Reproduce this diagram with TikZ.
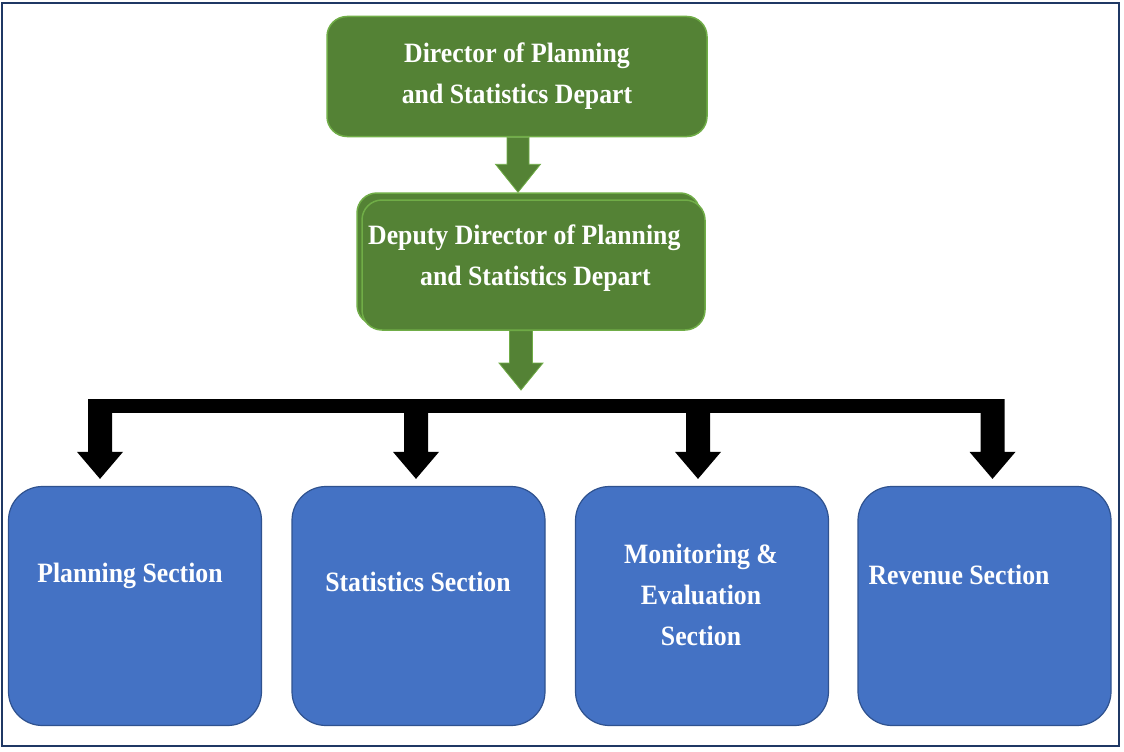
\documentclass[tikz,border=0pt]{standalone}
\usepackage{fontspec}
\setmainfont{Liberation Serif}[FakeStretch=0.92]
\usetikzlibrary{calc}
\definecolor{dirgreen}{HTML}{548235}
\definecolor{edgegreen}{HTML}{70AD47}
\definecolor{secblue}{HTML}{4472C4}
\definecolor{edgeblue}{HTML}{2F528F}
\definecolor{framenavy}{HTML}{1F3864}
\tikzset{
  greenbox/.style={draw=edgegreen, line width=1.5pt, fill=dirgreen, rounded corners=20pt, inner sep=0pt},
  bluebox/.style={draw=edgeblue, line width=1.2pt, fill=secblue, rounded corners=34pt,
    minimum width=253pt, minimum height=239pt, inner sep=0pt},
  boxtext/.style={text=white, font=\fontsize{28}{41}\selectfont\bfseries, align=center, inner sep=0pt},
  blockarrow/.style n args={3}{to path={let \p1=(\tikztostart), \p2=(\tikztotarget) in
    -- (\x2-#1,\y1) -- (\x2+#1,\y1) -- (\x2+#1,\y2+#3) -- (\x2+#2,\y2+#3)
    -- (\x2,\y2) -- (\x2-#2,\y2+#3) -- (\x2-#1,\y2+#3) -- (\x2-#1,\y1) -- cycle}},
}
\begin{document}
\begin{tikzpicture}[x=1pt, y=-1pt]
    \useasboundingbox (0,0) rectangle (1124,752);
    \draw[framenavy, line width=2pt] (2,3) rectangle (1119,746);

    % director and deputy
    \node[greenbox, minimum width=380pt, minimum height=120pt] (director) at (517,76.5) {};
    \node[boxtext] (directortext) at (director.center) {Director of Planning\\and Statistics Depart};

    \node[greenbox, minimum width=343pt, minimum height=132pt] (deputyback) at (528.5,259) {};
    \node[greenbox, minimum width=343pt, minimum height=130pt] (deputy) at (533.5,265) {};
    \node[boxtext, align=left, anchor=west] (deputytext) at (368,258) {Deputy Director of Planning\\\hspace*{52pt}and Statistics Depart};

    \draw[fill=dirgreen, draw=edgegreen, line width=0.8pt] (director.south -| 518,0) to[blockarrow={11pt}{22.5pt}{28pt}] (518,0 |- deputyback.north);

    \coordinate (split) at (521,390);
    \draw[fill=dirgreen, draw=edgegreen, line width=0.8pt] (deputy.south -| split) to[blockarrow={11.5pt}{22pt}{27pt}] (split);

    % sections
    \foreach \name/\cx in {planning/135, statistics/418.5, monitoring/702, revenue/984.5}
        \node[bluebox] (\name) at (\cx,606) {};

    \node[boxtext] (planningtext) at (130,575.5) {Planning Section};
    \node[boxtext] (statisticstext) at (418,582) {Statistics Section};
    \node[boxtext] (monitoringtext) at (701,594.5) {Monitoring \&\\Evaluation\\Section};
    \node[boxtext] (revenuetext) at (959,575) {Revenue Section};

    % black bar and arrows
    \coordinate (barleft) at (88,399);
    \coordinate (barright) at (1004,413);
    \fill[black] (barleft) rectangle (barright);
    \foreach \name/\dx in {planning/-35, statistics/-2.5, monitoring/-4, revenue/8} {
        \path (\name.north) ++(\dx,-7) coordinate (\name tip);
        \fill[black] (\name tip |- barleft) to[blockarrow={12pt}{23pt}{27pt}] (\name tip);
    }
\end{tikzpicture}
\end{document}
